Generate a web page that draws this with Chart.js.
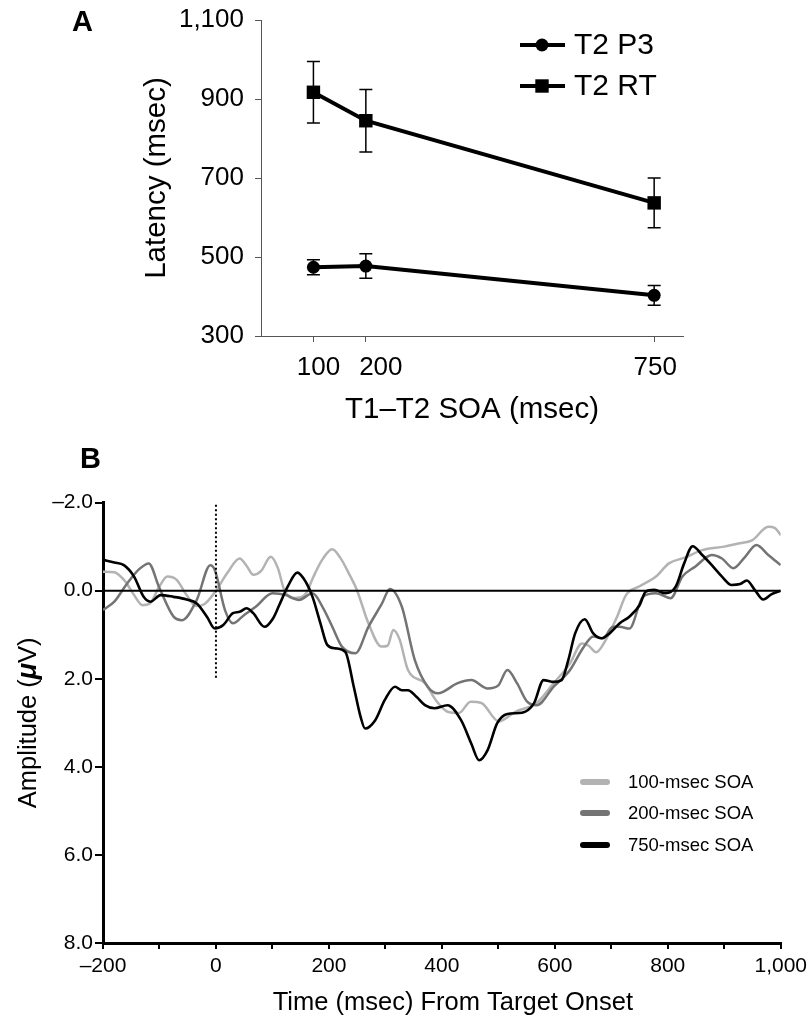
<!DOCTYPE html>
<html><head><meta charset="utf-8">
<script src="https://cdn.jsdelivr.net/npm/chart.js"></script>
<style>
html,body{margin:0;padding:0;background:#fff;width:812px;height:1022px;overflow:hidden;font-family:"Liberation Sans",Arial,Helvetica,sans-serif}
.wrap{position:absolute;left:0}
#wa{top:0;width:812px;height:440px}
#wb{top:440px;width:812px;height:582px}
.lab{position:absolute;font-weight:bold;font-size:29px;line-height:33px;color:#000}
</style></head><body>
<div class="wrap" id="wa"><canvas id="ca" width="812" height="440"></canvas></div>
<div class="wrap" id="wb"><canvas id="cb" width="812" height="582"></canvas></div>
<div class="lab" style="left:72px;top:5px">A</div>
<div class="lab" style="left:80px;top:442px">B</div>
<script>
// ---------- Panel A data ----------
const soa = [100, 200, 750];
const p3Latency = [474, 477, 403];
const p3Error = [19, 31, 25];
const rtLatency = [917, 845, 637];
const rtError = [78, 79, 63];
const latencyTicks = [300, 500, 700, 900, 1100];
const soaTicks = [100, 200, 750];

// ---------- Panel B data ----------
const t100 = [-200,-180,-160,-145,-130,-118,-100,-86,-70,-52,-35,-20,0,20,42,55,66,80,97,110,120,135,150,160,172,188,206,220,235,250,270,293,304,314,325,340,370,390,410,430,451,470,501,530,568,598,627,648,660,673,691,710,726,750,779,802,830,861,900,925,950,978,990,1000];
const a100 = [-0.43,-0.42,-0.2,0.1,0.33,0.3,-0.1,-0.32,-0.25,0.1,0.35,0.3,0.0,-0.4,-0.73,-0.55,-0.36,-0.45,-0.77,-0.5,-0.05,0.17,0.15,0.05,-0.3,-0.7,-0.94,-0.75,-0.4,0,0.74,1.27,1.25,0.89,1.1,1.8,2.1,2.5,2.75,2.78,2.52,2.55,2.97,2.75,2.55,2.1,1.65,1.2,1.25,1.4,1.1,0.6,0.1,-0.1,-0.32,-0.62,-0.75,-0.92,-1.0,-1.07,-1.15,-1.45,-1.42,-1.26];
const t200 = [-200,-180,-157,-135,-119,-101,-75,-60,-34,-10,-2,16,30,50,71,100,124,147,171,190,206,223,247,270,294,308,329,352,375,393,428,452,481,500,516,533,551,568,598,627,650,668,685,703,715,732,756,779,805,826,849,878,896,916,937,957,978,1000];
const a200 = [0.44,0.25,-0.17,-0.5,-0.62,-0.09,0.59,0.67,0.21,-0.58,-0.47,0.44,0.74,0.55,0.36,0.06,0.1,0.21,0.06,0.4,0.82,1.27,1.42,0.82,0.29,-0.04,0.36,1.57,2.18,2.33,2.1,2.03,2.22,2.15,1.8,2.1,2.52,2.6,2.18,1.8,1.3,1.04,1.08,0.82,0.82,0.86,0.14,0.06,0.17,-0.32,-0.55,-0.81,-0.73,-0.51,-0.77,-1.04,-0.81,-0.58];
const t750 = [-200,-180,-163,-145,-128,-116,-98,-75,-52,-34,-16,-2,13,30,42,54,66,86,101,112,127,144,159,171,185,197,212,229,244,256,264,282,299,317,329,340,355,370,387,410,434,452,466,481,498,516,542,563,580,598,612,624,636,653,668,683,697,715,732,750,761,776,796,814,829,844,861,878,896,913,928,940,954,969,984,1000];
const a750 = [-0.70,-0.64,-0.58,-0.32,0.14,0.25,0.1,0.14,0.2,0.29,0.59,0.86,0.78,0.51,0.48,0.4,0.51,0.82,0.63,0.33,-0.09,-0.41,-0.2,0.14,0.74,1.23,1.31,1.39,2.18,2.86,3.13,2.94,2.48,2.18,2.26,2.26,2.41,2.6,2.67,2.6,2.94,3.47,3.85,3.62,3.01,2.8,2.77,2.56,2.03,2.07,2.03,1.57,0.97,0.65,0.97,1.08,0.97,0.74,0.59,0.33,0.02,-0.02,0.06,-0.09,-0.62,-1.01,-0.81,-0.58,-0.32,-0.13,-0.15,-0.23,-0.02,0.2,0.08,0];
const timeTicks = [-200,-100,0,100,200,300,400,500,600,700,800,900,1000];
const ampTicks = [-2,0,2,4,6,8];
const ergLabels = ['100-msec SOA','200-msec SOA','750-msec SOA'];
const ergColors = ['#b3b3b3','#747474','#000000'];

const F = '"Liberation Sans", Arial, Helvetica, sans-serif';
Chart.defaults.font.family = F;
Chart.defaults.color = '#000';

function commas(v){ return String(v).replace(/\B(?=(\d{3})+(?!\d))/g, ','); }
function dash(s){ return s.replace('-', '\u2013'); }

// ---------- Panel A ----------
const soaLabelNudge = [5, 15, 1]; // horizontal shift of crowded tick labels (px)
const errorBars = {
  id: 'errorBars',
  beforeDatasetsDraw(chart){
    const {ctx, scales:{x, y}} = chart;
    ctx.save(); ctx.strokeStyle = '#000'; ctx.lineWidth = 1.5;
    chart.data.datasets.forEach(ds => {
      if (!ds.errors) return;
      ds.data.forEach((p, i) => {
        const px = x.getPixelForValue(p.x);
        const top = y.getPixelForValue(p.y + ds.errors[i]);
        const bot = y.getPixelForValue(p.y - ds.errors[i]);
        ctx.beginPath();
        ctx.moveTo(px, top); ctx.lineTo(px, bot);
        ctx.moveTo(px - 6.5, top); ctx.lineTo(px + 6.5, top);
        ctx.moveTo(px - 6.5, bot); ctx.lineTo(px + 6.5, bot);
        ctx.stroke();
      });
    });
    ctx.restore();
  }
};
const xLabelsA = {
  id: 'xLabelsA',
  afterDraw(chart){
    const {ctx, scales:{x}} = chart;
    ctx.save();
    ctx.fillStyle = '#000'; ctx.font = '26px ' + F; ctx.textAlign = 'center'; ctx.textBaseline = 'middle';
    soaTicks.forEach((v, i) => ctx.fillText(String(v), x.getPixelForValue(v) + soaLabelNudge[i], 368));
    ctx.restore();
  }
};
const legendA = {
  id: 'legendA',
  afterDraw(chart){
    const ctx = chart.ctx;
    const rows = [{ds: chart.data.datasets[0], y: 45}, {ds: chart.data.datasets[1], y: 86}];
    ctx.save();
    rows.forEach(r => {
      ctx.strokeStyle = '#000'; ctx.fillStyle = '#000'; ctx.lineWidth = 4;
      ctx.beginPath(); ctx.moveTo(520, r.y); ctx.lineTo(565, r.y); ctx.stroke();
      if (r.ds.pointStyle === 'circle') { ctx.beginPath(); ctx.arc(542, r.y, 6.5, 0, Math.PI*2); ctx.fill(); }
      else { ctx.fillRect(542 - 6.7, r.y - 6.7, 13.4, 13.4); }
      ctx.font = '30px ' + F; ctx.textBaseline = 'middle'; ctx.textAlign = 'left';
      ctx.fillText(r.ds.label, 574, r.y + 1);
    });
    ctx.restore();
  }
};

new Chart(document.getElementById('ca'), {
  type: 'line',
  data: { datasets: [
    { label: 'T2 P3', data: soa.map((x, i) => ({x, y: p3Latency[i]})), errors: p3Error,
      borderColor: '#000', backgroundColor: '#000', borderWidth: 4, pointStyle: 'circle', pointRadius: 6.5, pointBorderWidth: 0, tension: 0 },
    { label: 'T2 RT', data: soa.map((x, i) => ({x, y: rtLatency[i]})), errors: rtError,
      borderColor: '#000', backgroundColor: '#000', borderWidth: 4, pointStyle: 'rect', pointRadius: 9.5, pointBorderWidth: 0, tension: 0 }
  ]},
  options: {
    responsive: false, animation: false, devicePixelRatio: 1,
    layout: { padding: { left: 0, top: 20, right: 129, bottom: 0 } },
    plugins: { legend: { display: false }, tooltip: { enabled: false } },
    scales: {
      x: { type: 'linear', min: 0, max: 805,
        afterBuildTicks: s => { s.ticks = soaTicks.map(v => ({value: v})); },
        afterFit: s => { s.height = 104; s.paddingLeft = 0; s.paddingRight = 0; },
        grid: { drawOnChartArea: false, tickLength: 6, color: '#555', lineWidth: 1 },
        border: { color: '#555', width: 1 },
        ticks: { display: false },
        title: { display: true, text: 'T1\u2013T2 SOA (msec)', font: { size: 29.5 }, color: '#000', padding: { top: 0, bottom: 12 } } },
      y: { type: 'linear', min: 300, max: 1100,
        afterBuildTicks: s => { s.ticks = latencyTicks.map(v => ({value: v})); },
        afterFit: s => { s.width = 261; s.paddingTop = 10; s.paddingBottom = 10; },
        grid: { drawOnChartArea: false, tickLength: 6, color: '#555', lineWidth: 1 },
        border: { color: '#555', width: 1 },
        ticks: { font: { size: 26 }, color: '#000', padding: 11, callback: v => commas(v) },
        title: { display: true, text: 'Latency (msec)', font: { size: 29.5 }, color: '#000', padding: { top: 139, bottom: 0 } } }
    }
  },
  plugins: [errorBars, xLabelsA, legendA]
});

// ---------- Panel B ----------
const legendB = {
  id: 'legendB',
  afterDraw(chart){
    const ctx = chart.ctx;
    const ys = [342, 373, 405];
    ctx.save();
    ergLabels.forEach((lab, i) => {
      ctx.strokeStyle = ergColors[i]; ctx.lineWidth = 6; ctx.lineCap = 'round';
      ctx.beginPath(); ctx.moveTo(583, ys[i]); ctx.lineTo(607, ys[i]); ctx.stroke();
      ctx.fillStyle = '#000'; ctx.font = '18.5px ' + F; ctx.textBaseline = 'middle'; ctx.textAlign = 'left';
      ctx.fillText(lab, 628, ys[i] + 1);
    });
    ctx.restore();
  }
};
const titlesB = {
  id: 'titlesB',
  afterDraw(chart){
    const ctx = chart.ctx; const ca = chart.chartArea;
    ctx.save();
    ctx.fillStyle = '#000';
    // x title
    ctx.font = '25.5px ' + F; ctx.textAlign = 'center'; ctx.textBaseline = 'middle';
    ctx.fillText('Time (msec) From Target Onset', (ca.left + ca.right) / 2 + 11, 563);
    // y title with bold italic mu
    ctx.translate(29, (ca.top + ca.bottom) / 2);
    ctx.rotate(-Math.PI / 2);
    ctx.textAlign = 'left';
    const parts = [['Amplitude (', '25.5px ' + F], ['\u03BC', 'italic bold 27px ' + F], ['V)', '25.5px ' + F]];
    let w = 0;
    parts.forEach(p => { ctx.font = p[1]; w += ctx.measureText(p[0]).width; });
    let x = -w / 2;
    parts.forEach(p => { ctx.font = p[1]; ctx.fillText(p[0], x, 0); x += ctx.measureText(p[0]).width; });
    ctx.restore();
  }
};
const mk = (ts, as) => ts.map((t, i) => ({x: t, y: as[i]}));

new Chart(document.getElementById('cb'), {
  type: 'line',
  data: { datasets: [
    { label: 'zero', data: [{x: -200, y: 0}, {x: 1000, y: 0}], borderColor: '#000', borderWidth: 2, pointRadius: 0, order: 0 },
    { label: 'onset', data: [{x: 0, y: -1.95}, {x: 0, y: 2}], borderColor: '#000', borderWidth: 2, borderDash: [2, 2.5], pointRadius: 0, order: 0 },
    { label: ergLabels[2], data: mk(t750, a750), borderColor: ergColors[2], borderWidth: 2.6, pointRadius: 0, cubicInterpolationMode: 'monotone', order: 1 },
    { label: ergLabels[1], data: mk(t200, a200), borderColor: ergColors[1], borderWidth: 2.5, pointRadius: 0, cubicInterpolationMode: 'monotone', order: 2 },
    { label: ergLabels[0], data: mk(t100, a100), borderColor: ergColors[0], borderWidth: 2.5, pointRadius: 0, cubicInterpolationMode: 'monotone', order: 3 }
  ]},
  options: {
    responsive: false, animation: false, devicePixelRatio: 1,
    layout: { padding: { left: 0, top: 62.6, right: 25, bottom: 0 } },
    plugins: { legend: { display: false }, tooltip: { enabled: false } },
    scales: {
      x: { type: 'linear', min: -200, max: 1000,
        afterBuildTicks: s => { s.ticks = timeTicks.map(v => ({value: v})); },
        afterFit: s => { s.height = 79; },
        grid: { drawOnChartArea: false, tickLength: 6, color: '#000', lineWidth: 2 },
        border: { color: '#000', width: 3 },
        ticks: { font: { size: 21 }, color: '#000', padding: 5, autoSkip: false, maxRotation: 0,
          callback: v => (v % 200 === 0 ? dash(commas(v)) : '') },
        title: { display: false } },
      y: { type: 'linear', reverse: true, min: -2, max: 8,
        afterBuildTicks: s => { s.ticks = ampTicks.map(v => ({value: v})); },
        afterFit: s => { s.width = 103; },
        grid: { drawOnChartArea: false, tickLength: 8, color: '#000', lineWidth: 2 },
        border: { color: '#000', width: 3 },
        ticks: { font: { size: 21 }, color: '#000', padding: 2, callback: v => dash(v.toFixed(1)) },
        title: { display: false } }
    }
  },
  plugins: [legendB, titlesB]
});
</script>
</body></html>
